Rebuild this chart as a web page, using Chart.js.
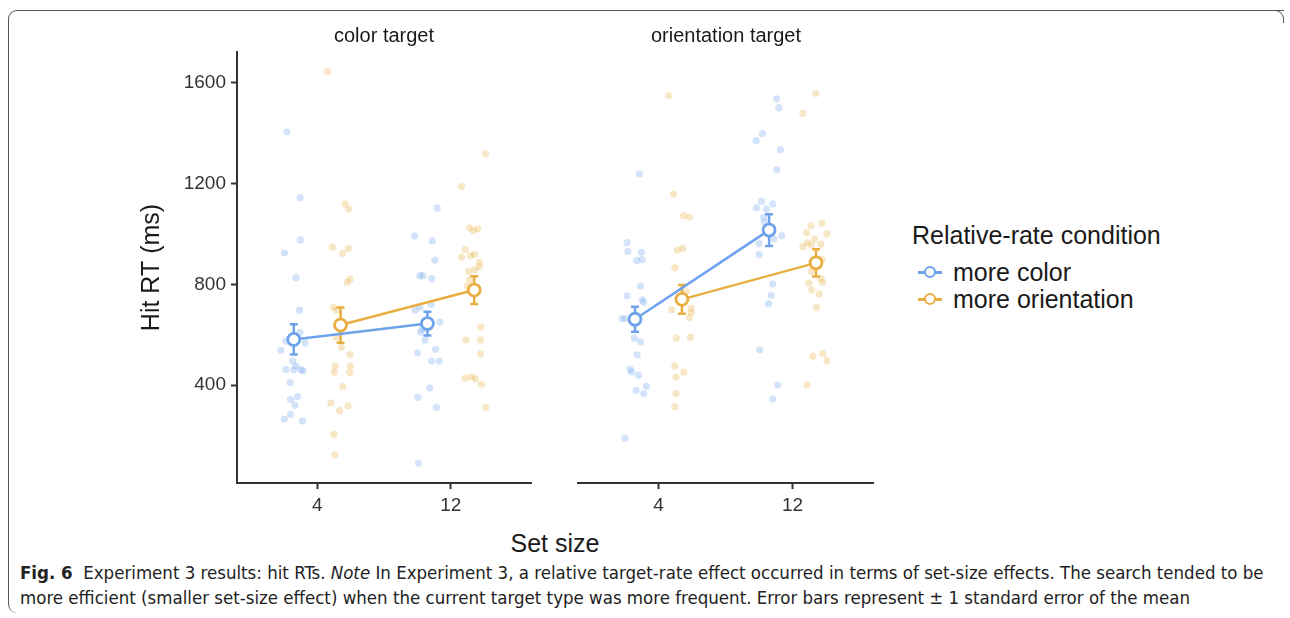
<!DOCTYPE html>
<html>
<head>
<meta charset="utf-8">
<title>Experiment 3 hit RTs</title>
<script src="https://cdn.jsdelivr.net/npm/chart.js@4.4.1/dist/chart.umd.min.js"></script>
<style>
    body {
        margin: 0;
        width: 1290px;
        height: 618px;
        position: relative;
        overflow: hidden;
        background: #fff;
        font-family: "Liberation Sans", Arial, sans-serif;
        color: #1a1a1a;
    }
    canvas { position: absolute; top: 0; }
    .frame {
        position: absolute; left: 8px; top: 10px; width: 1275px; height: 602px;
        border-top: 1px solid #555; border-left: 1px solid #555;
        border-top-left-radius: 9px; border-bottom-left-radius: 9px;
    }
    .frame-right {
        position: absolute; left: 1273px; top: 10px; width: 10px; height: 12px;
        border-top: 1px solid #555; border-right: 1px solid #555;
        border-top-right-radius: 9px;
    }
    .lbl { position: absolute; white-space: nowrap; }
    .strip { top: 23px; width: 240px; text-align: center; font-size: 20px; line-height: 24px; color: #1a1a1a; }
    .legend-title { left: 912px; top: 220px; font-size: 25px; line-height: 30px; }
    .legend-item { left: 918px; font-size: 25px; line-height: 27px; }
    .key { position: relative; display: inline-block; width: 24px; height: 27px; margin-right: 11px; vertical-align: top; }
    .key::before { content: ''; position: absolute; left: 0; right: 0; top: 12px; height: 2.5px; background: var(--c); }
    .key::after {
        content: ''; position: absolute; left: 6px; top: 7px; width: 8px; height: 8px;
        border: 2.5px solid var(--c); border-radius: 50%; background: #fff;
    }
    .caption {
        left: 20px; top: 560px; font-size: 18.5px; line-height: 25px; color: #222;
        font-family: "Liberation Sans Narrow", "DejaVu Sans Condensed", "Liberation Sans", sans-serif;
    }
</style>
</head>
<body>
<div class="frame"></div>
<div class="frame-right"></div>

<canvas id="color-panel" width="545" height="523" style="left:0px"></canvas>
<canvas id="orient-panel" width="330" height="523" style="left:560px"></canvas>

<div class="lbl strip" style="left:264px">color target</div>
<div class="lbl strip" style="left:606px">orientation target</div>
<div class="lbl" style="left:455px; width:200px; top:528px; text-align:center; font-size:25px; line-height:30px">Set size</div>

<div class="lbl legend-title">Relative-rate condition</div>
<div class="lbl legend-item" style="top:259px"><span class="key" style="--c:#6EA2EA"></span>more color</div>
<div class="lbl legend-item" style="top:286px"><span class="key" style="--c:#E9AE42"></span>more orientation</div>

<div class="lbl caption"><b>Fig. 6</b>&nbsp; Experiment 3 results: hit RTs. <i>Note</i> In Experiment 3, a relative target-rate effect occurred in terms of set-size effects. The search tended to be<br>more efficient (smaller set-size effect) when the current target type was more frequent. Error bars represent ± 1 standard error of the mean</div>

<script>
// categories and ticks
const setSizes = ['4', '12'];
const yTicks = [400, 800, 1200, 1600];

// means and standard errors (ms), per set size 4 / 12
const colorTgtMoreColorMean = [582, 645];
const colorTgtMoreColorSE = [60, 47];
const colorTgtMoreOrientMean = [639, 778];
const colorTgtMoreOrientSE = [70, 55];
const orientTgtMoreColorMean = [662, 1016];
const orientTgtMoreColorSE = [50, 63];
const orientTgtMoreOrientMean = [741, 886];
const orientTgtMoreOrientSE = [57, 54];

// individual participants, [jittered set-size position, RT]
const colorTgtMoreColorPts = [
    [0.774, 1406], [0.873, 1144], [0.875, 977], [0.756, 925], [0.841, 827], [0.868, 698],
    [0.871, 610], [0.766, 575], [0.910, 568], [0.729, 539], [0.816, 496], [0.841, 477],
    [0.766, 462], [0.826, 462], [0.881, 462], [0.893, 457], [0.797, 411], [0.853, 355],
    [0.801, 343], [0.834, 320], [0.801, 285], [0.754, 266], [0.890, 258],
    [1.898, 1103], [1.729, 993], [1.861, 973], [1.881, 896], [1.769, 835], [1.791, 835],
    [1.858, 823], [1.853, 721], [1.769, 709], [1.731, 698], [1.918, 651], [1.786, 622],
    [1.774, 611], [1.808, 579], [1.886, 543], [1.751, 529], [1.856, 496], [1.913, 496],
    [1.843, 389], [1.754, 352], [1.893, 312], [1.759, 90]
];
const colorTgtMoreOrientPts = [
    [1.077, 1645], [1.209, 1120], [1.236, 1099], [1.114, 948], [1.234, 943], [1.189, 924],
    [1.246, 821], [1.224, 809], [1.122, 709], [1.145, 698], [1.140, 590], [1.181, 551],
    [1.246, 522], [1.134, 476], [1.249, 476], [1.127, 452], [1.244, 451], [1.192, 395],
    [1.102, 330], [1.231, 318], [1.167, 299], [1.125, 205], [1.132, 124],
    [2.259, 1319], [2.080, 1189], [2.140, 1025], [2.169, 1014], [2.201, 1021], [2.107, 939],
    [2.080, 909], [2.147, 914], [2.177, 920], [2.214, 888], [2.214, 871], [2.181, 858],
    [2.134, 852], [2.142, 818], [2.122, 794], [2.224, 631], [2.112, 579], [2.222, 580],
    [2.222, 525], [2.107, 428], [2.154, 433], [2.184, 425], [2.229, 404], [2.261, 312]
];
const orientTgtMoreColorPts = [
    [0.858, 1239], [0.766, 966], [0.771, 931], [0.873, 928], [0.838, 895], [0.878, 899],
    [0.866, 793], [0.766, 755], [0.878, 739], [0.890, 730], [0.729, 665], [0.754, 665],
    [0.821, 587], [0.866, 572], [0.841, 521], [0.789, 464], [0.799, 453], [0.851, 440],
    [0.910, 396], [0.834, 380], [0.890, 367], [0.751, 190],
    [1.881, 1537], [1.898, 1502], [1.776, 1399], [1.729, 1371], [1.910, 1335], [1.883, 1256],
    [1.769, 1130], [1.731, 1104], [1.853, 1120], [1.806, 1099], [1.784, 1067], [1.789, 1047],
    [1.920, 994], [1.860, 981], [1.751, 962], [1.751, 919], [1.853, 802], [1.841, 757],
    [1.821, 724], [1.756, 540], [1.890, 401], [1.853, 345]
];
const orientTgtMoreOrientPts = [
    [1.077, 1550], [1.112, 1159], [1.187, 1073], [1.231, 1067], [1.142, 937], [1.181, 944],
    [1.122, 867], [1.207, 771], [1.099, 700], [1.244, 705], [1.244, 689], [1.231, 669],
    [1.134, 587], [1.239, 591], [1.122, 476], [1.132, 432], [1.189, 452], [1.132, 367],
    [1.122, 315],
    [2.174, 1559], [2.077, 1479], [2.137, 1033], [2.219, 1044], [2.256, 1001], [2.104, 1005],
    [2.164, 980], [2.110, 966], [2.077, 950], [2.140, 957], [2.212, 960], [2.219, 900],
    [2.140, 852], [2.212, 823], [2.224, 809], [2.121, 806], [2.143, 778], [2.199, 762],
    [2.179, 709], [2.151, 515], [2.226, 526], [2.256, 498], [2.107, 401]
];

const BLUE = '#6EA2EA';
const ORANGE = '#E9AE42';
const DODGE = 0.175;
const FONT = '"Liberation Sans", Arial, sans-serif';

// error bars drawn just before the mean line, so the white circles sit on top
const errorBarPlugin = {
    id: 'errorBars',
    beforeDatasetDraw(chart, args) {
        const ds = chart.data.datasets[args.index];
        if (!ds.se) return;
        const xs = chart.scales.x, ys = chart.scales.y, ctx = chart.ctx;
        ctx.save();
        ctx.strokeStyle = ds.borderColor;
        ctx.lineWidth = 2.5;
        ds.data.forEach((p, i) => {
            const px = xs.getPixelForValue(p[0]);
            const top = ys.getPixelForValue(p[1] + ds.se[i]);
            const bot = ys.getPixelForValue(p[1] - ds.se[i]);
            ctx.beginPath();
            ctx.moveTo(px, top); ctx.lineTo(px, bot);
            ctx.moveTo(px - 4, top); ctx.lineTo(px + 4, top);
            ctx.moveTo(px - 4, bot); ctx.lineTo(px + 4, bot);
            ctx.stroke();
        });
        ctx.restore();
    }
};

function jitterSet(points, color) {
    return {
        data: points, order: 2,
        pointRadius: 3.6, pointBorderWidth: 0,
        pointBackgroundColor: color + '4D', borderColor: color + '4D'
    };
}

function meanSet(means, se, offset, color) {
    return {
        data: means.map((m, i) => [i + 1 + offset, m]), se: se, order: 1,
        showLine: true, borderColor: color, borderWidth: 2.5,
        pointRadius: 6, pointBorderWidth: 2.8,
        pointBackgroundColor: '#fff', pointBorderColor: color
    };
}

function buildPanel(canvasId, showY, padding, datasets) {
    return new Chart(document.getElementById(canvasId), {
        type: 'scatter',
        data: { datasets: datasets },
        plugins: [errorBarPlugin],
        options: {
            responsive: false,
            animation: false,
            layout: { padding: padding },
            plugins: { legend: { display: false }, tooltip: { enabled: false } },
            scales: {
                x: {
                    type: 'linear', min: 0.4, max: 2.6,
                    afterBuildTicks: s => { s.ticks = [{ value: 1 }, { value: 2 }]; },
                    afterFit: s => { s.height = 40; },
                    ticks: {
                        callback: v => setSizes[v - 1],
                        font: { size: 19, family: FONT }, color: '#333', padding: 5
                    },
                    grid: { drawOnChartArea: false, tickLength: 6, tickWidth: 2, tickColor: '#333' },
                    border: { color: '#333', width: 2 }
                },
                y: {
                    display: showY, min: 12, max: 1723,
                    afterBuildTicks: s => { s.ticks = yTicks.map(v => ({ value: v })); },
                    afterFit: s => { s.width = showY ? 100 : 0; },
                    title: {
                        display: true, text: 'Hit RT (ms)', color: '#1a1a1a', padding: 0,
                        font: { size: 25, family: FONT }
                    },
                    ticks: {
                        callback: v => String(v),
                        font: { size: 19, family: FONT }, color: '#333', padding: 5
                    },
                    grid: { drawOnChartArea: false, tickLength: 6, tickWidth: 2, tickColor: '#333' },
                    border: { color: '#333', width: 2 }
                }
            }
        }
    });
}

buildPanel('color-panel', true, { left: 137, top: 52, right: 14, bottom: 0 }, [
    meanSet(colorTgtMoreColorMean, colorTgtMoreColorSE, -DODGE, BLUE),
    meanSet(colorTgtMoreOrientMean, colorTgtMoreOrientSE, DODGE, ORANGE),
    jitterSet(colorTgtMoreColorPts, BLUE),
    jitterSet(colorTgtMoreOrientPts, ORANGE)
]);

buildPanel('orient-panel', false, { left: 18, top: 52, right: 17, bottom: 0 }, [
    meanSet(orientTgtMoreColorMean, orientTgtMoreColorSE, -DODGE, BLUE),
    meanSet(orientTgtMoreOrientMean, orientTgtMoreOrientSE, DODGE, ORANGE),
    jitterSet(orientTgtMoreColorPts, BLUE),
    jitterSet(orientTgtMoreOrientPts, ORANGE)
]);
</script>
</body>
</html>
